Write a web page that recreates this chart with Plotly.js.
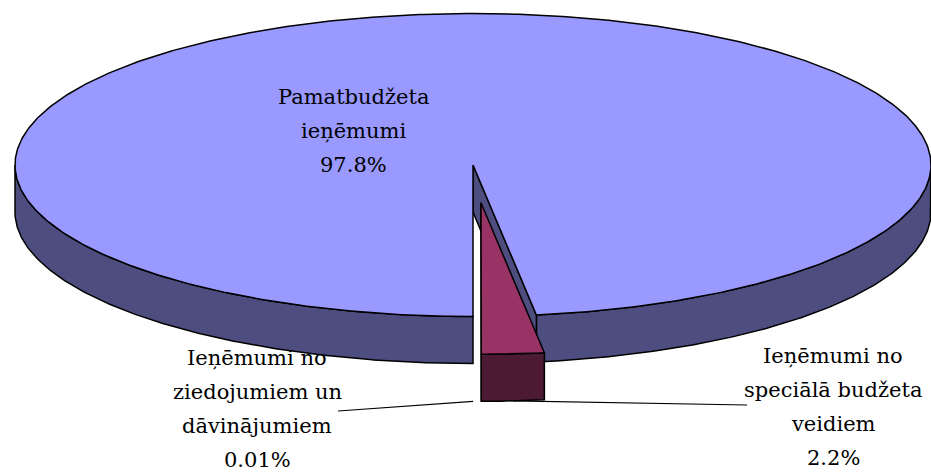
<!DOCTYPE html>
<html>
<head>
<meta charset="utf-8">
<script src="https://cdn.plot.ly/plotly-3.0.1.min.js"></script>
<style>
html,body{margin:0;padding:0;background:#ffffff;}
#chart{width:931px;height:472px;}
</style>
</head>
<body>
<div id="chart"></div>
<script>
// ---- data ----
const categories = ["Pamatbudžeta ieņēmumi", "Ieņēmumi no speciālā budžeta veidiem", "Ieņēmumi no ziedojumiem un dāvinājumiem"];
const labelLines = [["Pamatbudžeta", "ieņēmumi"], ["Ieņēmumi no", "speciālā budžeta", "veidiem"], ["Ieņēmumi no", "ziedojumiem un", "dāvinājumiem"]];
const values = [97.79, 2.2, 0.01];
const pctText = ["97.8%", "2.2%", "0.01%"];
const explode = [0, 0.25, 0.25];
const topColors = ["#9999FF", "#993366", "#FFFFCC"];
const sideColors = ["#4D4D80", "#4D1A33", "#808066"];

// ---- geometry (layout, pixel space) ----
const CX = 473, CY = 165, RX = 458, RY = 151.5, DEPTH = 47;
const labelPos = [[353, 97], [833, 356], [257, 358]]; // centre x, first line centre y
const LINE_GAP = 34;
const leaderEnd = [null, [747, 405], [338, 411]];
const FONT = "DejaVu Serif";
const FONT_SIZE = 21;

function pt(th, ox, oy, z) {
  const r = th * Math.PI / 180;
  return [CX + ox + RX * Math.sin(r), CY + oy + RY * Math.cos(r) + z];
}
function arc(a, b, ox, oy, z) {
  const n = Math.max(2, Math.ceil(Math.abs(b - a) / 0.5));
  const out = [];
  for (let i = 0; i <= n; i++) out.push(pt(a + (b - a) * i / n, ox, oy, z));
  return out;
}
const traces = [];
function poly(points, fill, lw) {
  traces.push({
    type: "scatter", mode: "lines", fill: "toself", fillcolor: fill,
    x: points.map(p => p[0]), y: points.map(p => p[1]),
    line: {color: "#000000", width: lw}, hoverinfo: "skip", showlegend: false
  });
}

const total = values.reduce((s, v) => s + v, 0);
let cur = 0;
const slices = values.map((v, i) => {
  const span = v / total * 360;
  const s = {lo: cur - span, hi: cur, i: i, span: span};
  cur -= span;
  const mid = (s.lo + s.hi) / 2 * Math.PI / 180;
  s.ox = explode[i] * RX * Math.sin(mid);
  s.oy = explode[i] * RY * Math.cos(mid);
  return s;
});

slices.forEach(s => {
  if (s.span < 0.5) return; // too thin to be visible
  const lw = 1.5;
  const ax = CX + s.ox, ay = CY + s.oy;
  for (let k = -2; k <= 1; k++) {
    const a = Math.max(s.lo, -90 + 360 * k), b = Math.min(s.hi, 90 + 360 * k);
    if (b > a) {
      const top = arc(a, b, s.ox, s.oy, 0);
      const bot = arc(b, a, s.ox, s.oy, DEPTH);
      poly(top.concat(bot, [top[0]]), sideColors[s.i], lw);
    }
  }
  [[s.lo, Math.sin(s.lo * Math.PI / 180) > 0], [s.hi, Math.sin(s.hi * Math.PI / 180) < 0]].forEach(f => {
    if (f[1]) {
      const p = pt(f[0], s.ox, s.oy, 0);
      poly([[ax, ay], p, [p[0], p[1] + DEPTH], [ax, ay + DEPTH], [ax, ay]], sideColors[s.i], lw);
    }
  });
  const t = [[ax, ay]].concat(arc(s.lo, s.hi, s.ox, s.oy, 0), [[ax, ay]]);
  poly(t, topColors[s.i], lw);
});

slices.forEach(s => {
  const e = leaderEnd[s.i];
  if (!e) return;
  const a = pt((s.lo + s.hi) / 2, s.ox, s.oy, DEPTH);
  traces.push({type: "scatter", mode: "lines", x: [a[0], e[0]], y: [a[1], e[1]],
    line: {color: "#000000", width: 1.2}, hoverinfo: "skip", showlegend: false});
});

const annotations = [];
slices.forEach(s => {
  const lines = labelLines[s.i].concat([pctText[s.i]]);
  lines.forEach((txt, j) => {
    annotations.push({
      x: labelPos[s.i][0], y: labelPos[s.i][1] + j * LINE_GAP, xref: "x", yref: "y",
      text: txt, showarrow: false, xanchor: "center", yanchor: "middle", align: "center",
      font: {family: FONT, size: FONT_SIZE, color: "#000000"}
    });
  });
});

const layout = {
  width: 931, height: 472,
  font: {family: FONT, size: FONT_SIZE, color: "#000000"},
  margin: {l: 0, r: 0, t: 0, b: 0, pad: 0},
  paper_bgcolor: "#ffffff", plot_bgcolor: "#ffffff",
  xaxis: {range: [0, 931], visible: false, fixedrange: true},
  yaxis: {range: [472, 0], visible: false, fixedrange: true},
  showlegend: false,
  annotations: annotations
};
Plotly.newPlot("chart", traces, layout, {staticPlot: true, displayModeBar: false});
</script>
</body>
</html>
